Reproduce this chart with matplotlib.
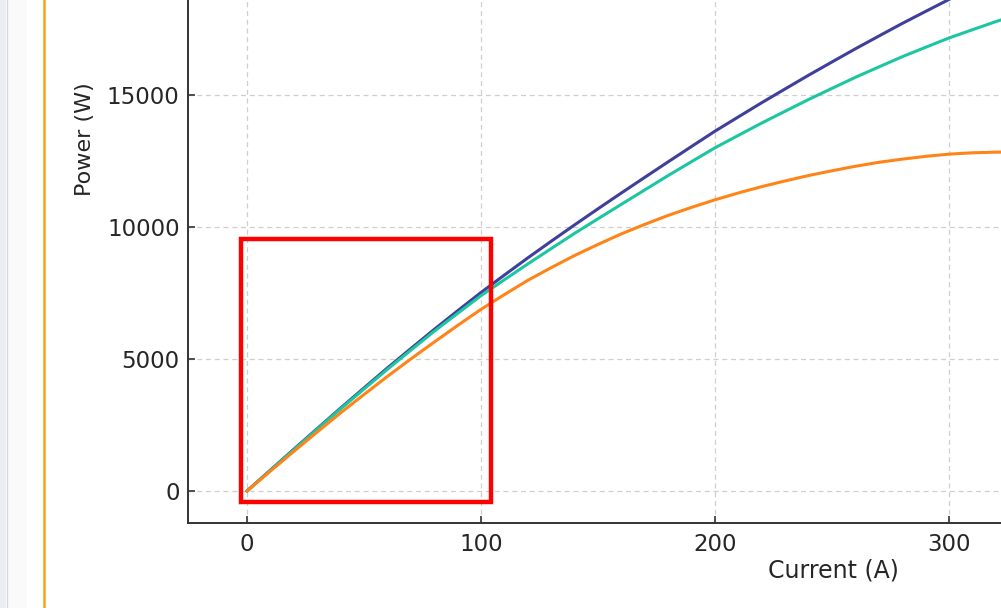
#!/usr/bin/env python3
"""
Power vs current curves for three cells (cropped view with highlight box).
Writes out.png.
"""

import matplotlib

matplotlib.use("Agg")
import matplotlib.pyplot as plt
from matplotlib.patches import Rectangle
from matplotlib.lines import Line2D

OUT = "out.png"

# Current (A)
current = [0, 10, 20, 30, 40, 50, 60, 70, 80, 90, 100, 110, 120, 130, 140, 150, 160, 170,
           180, 190, 200, 210, 220, 230, 240, 250, 260, 270, 280, 290, 300, 310, 320, 330, 340]

# Power (W)
power_blue = [0, 792, 1580, 2362, 3140, 3902, 4660, 5392, 6120, 6825, 7520, 8180, 8830,
              9460, 10080, 10690, 11290, 11882, 12470, 13052, 13630, 14172, 14710, 15232,
              15750, 16252, 16750, 17232, 17710, 18167, 18620, 19062, 19500, 19927, 20350]
power_green = [0, 782, 1560, 2337, 3110, 3862, 4610, 5332, 6050, 6727, 7400, 8003, 8600,
               9182, 9760, 10312, 10860, 11405, 11950, 12477, 13000, 13472, 13940, 14387,
               14830, 15252, 15670, 16062, 16450, 16807, 17160, 17472, 17780, 18067, 18350]
power_orange = [0, 752, 1500, 2233, 2960, 3655, 4340, 5000, 5640, 6270, 6880, 7440, 7980,
                8460, 8920, 9340, 9740, 10100, 10440, 10745, 11030, 11290, 11530, 11745,
                11950, 12130, 12300, 12450, 12570, 12675, 12760, 12810, 12835, 12840, 12835]

x_ticks = [0, 100, 200, 300]
y_ticks = [0, 5000, 10000, 15000]

# highlighted region (data coords)
box_x = (-2.6, 104.3)
box_y = (-420, 9545)

COLORS = {"blue": "#3f3f9c", "green": "#1cc6a0", "orange": "#ff8418"}


def main():
    W, H = 1001, 608
    fig = plt.figure(figsize=(W / 100, H / 100), dpi=100)
    fig.patch.set_facecolor("white")

    # axes runs off the right and top edges of the canvas (cropped screenshot)
    left, bottom = 188 / W, (H - 523) / H
    ax = fig.add_axes([left, bottom, 1 - left, 1 - bottom])
    ax.set_xlim(-25.2, 322.2)
    ax.set_ylim(-1212, 18598)

    for ys, c in ((power_blue, "blue"), (power_green, "green"), (power_orange, "orange")):
        ax.plot(current, ys, color=COLORS[c], lw=2.2, solid_capstyle="round",
                solid_joinstyle="round")

    ax.set_xticks(x_ticks)
    ax.set_yticks(y_ticks)
    ax.grid(True, color="#cfcfcf", lw=0.9, linestyle=(0, (4, 3)))
    ax.set_axisbelow(True)
    for s in ("top", "right"):
        ax.spines[s].set_visible(False)
    for s in ("left", "bottom"):
        ax.spines[s].set_color("#333333")
        ax.spines[s].set_linewidth(1.4)
    ax.tick_params(axis="both", direction="in", length=5, width=1.2, color="#333333",
                   labelsize=16.5, labelcolor="#262626")
    ax.tick_params(axis="x", pad=7)
    ax.tick_params(axis="y", pad=6)

    ax.set_xlabel("Current (A)", fontsize=17, color="#262626")
    ax.set_ylabel("Power (W)", fontsize=16, color="#262626")
    ax.xaxis.set_label_coords((833 - 188) / 813, -0.068)
    ax.yaxis.set_label_coords((95 - 188) / 813, (523 - 139) / 523)

    ax.add_patch(Rectangle((box_x[0], box_y[0]), box_x[1] - box_x[0], box_y[1] - box_y[0],
                           fill=False, edgecolor="#ff0000", lw=3.2, clip_on=False, zorder=5))

    # screenshot chrome on the left edge
    fig.add_artist(Rectangle((0, 0), 6 / W, 1, transform=fig.transFigure,
                             facecolor="#eceef1", edgecolor="none"))
    fig.add_artist(Line2D([6.5 / W, 6.5 / W], [0, 1], transform=fig.transFigure,
                          color="#d3d8de", lw=1.0))
    fig.add_artist(Rectangle((7 / W, 0), 20 / W, 1, transform=fig.transFigure,
                             facecolor="#fafafa", edgecolor="none"))
    fig.add_artist(Line2D([44 / W, 44 / W], [0, 1], transform=fig.transFigure,
                          color="#f7a21b", lw=1.8))

    fig.savefig(OUT, dpi=100)


if __name__ == "__main__":
    main()
